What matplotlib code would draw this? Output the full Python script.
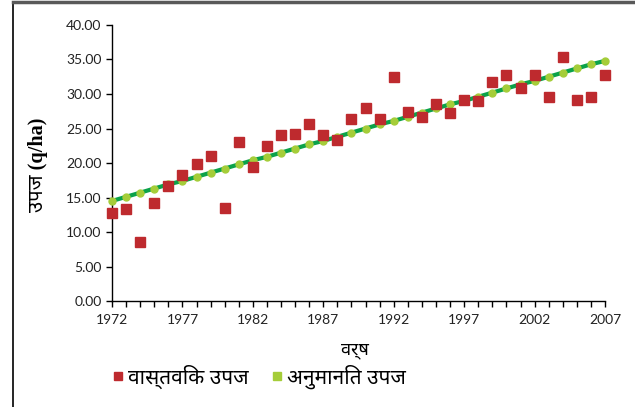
import numpy as np
import matplotlib
matplotlib.use('Agg')
import matplotlib.pyplot as plt
from matplotlib import font_manager
from matplotlib.lines import Line2D
from matplotlib.ticker import MultipleLocator, FormatStrFormatter

# ── Data ──────────────────────────────────────────────────────────────────────
years = list(range(1972, 2008))
actual = [12.8, 13.3, 8.6, 14.2, 16.7, 18.2, 19.8, 21.0, 13.5, 23.0,
          19.4, 22.4, 24.0, 24.2, 25.6, 24.0, 23.4, 26.4, 28.0, 26.4,
          32.5, 27.4, 26.6, 28.6, 27.3, 29.2, 29.0, 31.8, 32.7, 30.9,
          32.8, 29.5, 35.3, 29.2, 29.5, 32.7]
estimated = [14.5, 15.1, 15.7, 16.3, 16.9, 17.4, 18.0, 18.6, 19.2, 19.8,
             20.4, 20.9, 21.5, 22.1, 22.7, 23.2, 23.8, 24.4, 25.0, 25.6,
             26.1, 26.7, 27.3, 27.9, 28.5, 29.0, 29.6, 30.2, 30.8, 31.4,
             31.9, 32.5, 33.1, 33.7, 34.3, 34.8]
year_ticks = years[::5]

x_label = 'वर्ष'
y_label = 'उपज (q/ha)'
label_actual = 'वास्तविक उपज'
label_est = 'अनुमानित उपज'

RED = '#BE2A2E'
LGREEN = '#A5CD39'
DGREEN = '#0BA24A'

# pick an installed Devanagari family
installed = {f.name for f in font_manager.fontManager.ttflist}
deva = next((n for n in ['Noto Sans Devanagari', 'Hind', 'Mukta', 'Poppins',
                         'FreeSans'] if n in installed), 'DejaVu Sans')
fams = [deva, 'DejaVu Sans']
ylab_fams = ['Liberation Serif', deva, 'DejaVu Sans']
num_fam = ['Lato', 'DejaVu Sans']

fig = plt.figure(figsize=(6.35, 4.07), dpi=100)
ax = fig.add_axes([0.1764, 0.2604, 0.7764, 0.6782])

ax.plot(years, estimated, color=DGREEN, lw=3.0, zorder=2, solid_capstyle='round')
ax.plot(years, estimated, ls='none', marker='o', ms=5, color=LGREEN,
        zorder=3, clip_on=False)
ax.plot(years, actual, ls='none', marker='s', ms=7.2, color=RED,
        zorder=4, clip_on=False)

ax.set_xlim(1972, 2007)
ax.set_ylim(0, 40)
ax.set_xticks(year_ticks)
ax.xaxis.set_minor_locator(MultipleLocator(1))
ax.yaxis.set_major_locator(MultipleLocator(5))
ax.yaxis.set_major_formatter(FormatStrFormatter('%.2f'))
for s in ['top', 'right']:
    ax.spines[s].set_visible(False)
for s in ['left', 'bottom']:
    ax.spines[s].set_linewidth(1.0)
ax.tick_params(axis='both', which='both', direction='out', length=4,
               width=1.0, labelsize=10, colors='black')
ax.tick_params(axis='x', pad=5)
for t in ax.get_xticklabels() + ax.get_yticklabels():
    t.set_fontfamily(num_fam)
    t.set_color('#222222')

fig.text(0.559, 0.14, x_label, ha='center', va='center', fontsize=13,
         fontweight='bold', family=fams)
fig.text(0.06, 0.595, y_label, ha='center', va='center', fontsize=14.5,
         fontweight='bold', rotation=90, family=ylab_fams)

handles = [Line2D([], [], ls='none', marker='s', ms=6, color=RED),
           Line2D([], [], ls='none', marker='s', ms=6, color=LGREEN)]
fig.legend(handles, [label_actual, label_est], loc='center',
           bbox_to_anchor=(0.407, 0.074), ncol=2, frameon=False,
           prop={'family': fams, 'size': 15}, handletextpad=0.15,
           columnspacing=1.0, handlelength=0.7)

# chart frame (left and top edges visible)
fig.add_artist(Line2D([0.0205, 0.0205], [0.0, 0.995], color='black', lw=1.2,
                      transform=fig.transFigure))
fig.add_artist(Line2D([0.0205, 1.0], [0.995, 0.995], color='#595959', lw=2.5,
                      transform=fig.transFigure))

fig.savefig('out.png', dpi=100)
